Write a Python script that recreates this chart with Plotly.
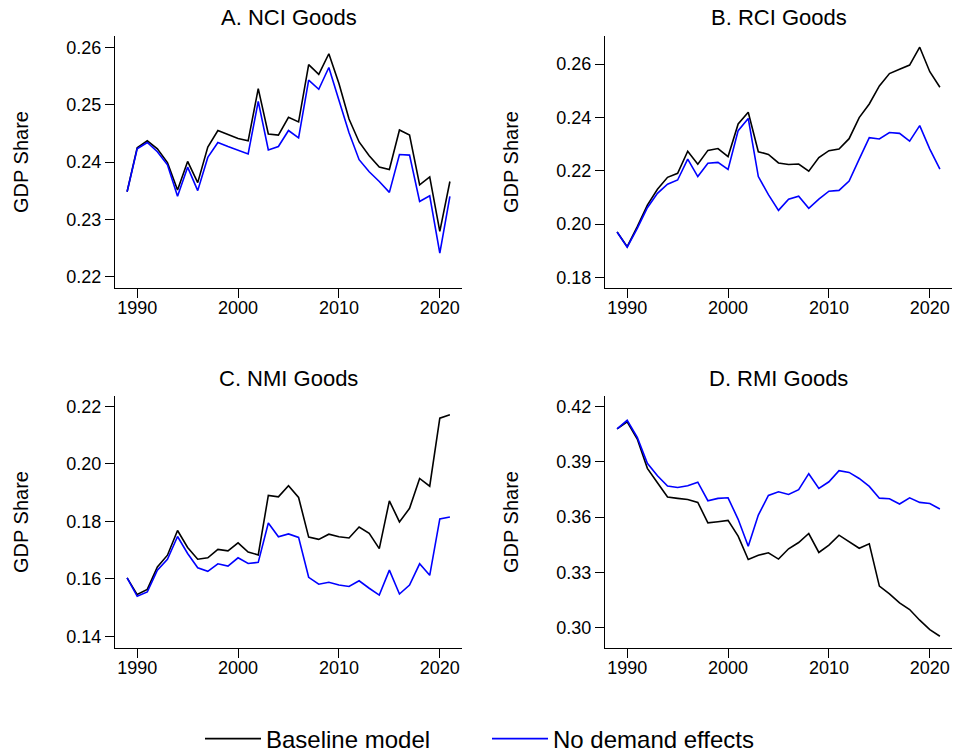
import plotly.graph_objects as go

years = list(range(1989, 2022))

nci_base = [0.2348, 0.2425, 0.2437, 0.2423, 0.2399, 0.2351, 0.2401, 0.2364, 0.2426, 0.2455,
            0.2448, 0.2441, 0.2437, 0.2528, 0.2449, 0.2447, 0.2478, 0.2470, 0.2570, 0.2553,
            0.2589, 0.2537, 0.2475, 0.2435, 0.2411, 0.2391, 0.2387, 0.2456, 0.2447, 0.2360,
            0.2374, 0.2279, 0.2366]
nci_nodem = [0.2348, 0.2423, 0.2434, 0.2418, 0.2395, 0.2340, 0.2391, 0.2350, 0.2408, 0.2434,
             0.2427, 0.2420, 0.2414, 0.2506, 0.2421, 0.2427, 0.2455, 0.2442, 0.2543, 0.2527,
             0.2565, 0.2508, 0.2451, 0.2404, 0.2383, 0.2366, 0.2347, 0.2413, 0.2412, 0.2331,
             0.2341, 0.2241, 0.2340]

rci_base = [0.1970, 0.1915, 0.1990, 0.2071, 0.2130, 0.2175, 0.2190, 0.2273, 0.2224, 0.2276,
            0.2283, 0.2253, 0.2375, 0.2419, 0.2271, 0.2261, 0.2229, 0.2223, 0.2225, 0.2198,
            0.2249, 0.2275, 0.2281, 0.2320, 0.2399, 0.2450, 0.2518, 0.2564, 0.2580, 0.2596,
            0.2663, 0.2571, 0.2513]
rci_nodem = [0.1970, 0.1913, 0.1984, 0.2061, 0.2115, 0.2149, 0.2165, 0.2243, 0.2178, 0.2228,
             0.2231, 0.2205, 0.2350, 0.2396, 0.2178, 0.2110, 0.2051, 0.2093, 0.2104, 0.2059,
             0.2093, 0.2123, 0.2126, 0.2161, 0.2243, 0.2324, 0.2319, 0.2343, 0.2340, 0.2311,
             0.2369, 0.2281, 0.2206]

nmi_base = [0.1603, 0.1545, 0.1563, 0.1641, 0.1682, 0.1768, 0.1709, 0.1668, 0.1673, 0.1702,
            0.1697, 0.1725, 0.1693, 0.1683, 0.1890, 0.1885, 0.1924, 0.1883, 0.1745, 0.1737,
            0.1755, 0.1746, 0.1742, 0.1780, 0.1758, 0.1705, 0.1871, 0.1798, 0.1845, 0.1949,
            0.1922, 0.2159, 0.2171]
nmi_nodem = [0.1603, 0.1539, 0.1554, 0.1630, 0.1668, 0.1747, 0.1688, 0.1638, 0.1626, 0.1652,
             0.1644, 0.1673, 0.1653, 0.1657, 0.1794, 0.1746, 0.1756, 0.1744, 0.1605, 0.1581,
             0.1588, 0.1578, 0.1573, 0.1593, 0.1567, 0.1543, 0.1630, 0.1547, 0.1578, 0.1652,
             0.1612, 0.1808, 0.1815]

rmi_base = [0.4079, 0.4118, 0.4024, 0.3865, 0.3787, 0.3709, 0.3702, 0.3696, 0.3680, 0.3569,
            0.3575, 0.3582, 0.3497, 0.3370, 0.3393, 0.3406, 0.3372, 0.3428, 0.3462, 0.3511,
            0.3408, 0.3448, 0.3502, 0.3466, 0.3431, 0.3455, 0.3225, 0.3183, 0.3134, 0.3098,
            0.3040, 0.2989, 0.2953]
rmi_nodem = [0.4079, 0.4126, 0.4033, 0.3892, 0.3825, 0.3769, 0.3761, 0.3770, 0.3790, 0.3689,
             0.3702, 0.3705, 0.3588, 0.3442, 0.3611, 0.3718, 0.3738, 0.3723, 0.3749, 0.3836,
             0.3756, 0.3792, 0.3852, 0.3843, 0.3810, 0.3767, 0.3703, 0.3700, 0.3671, 0.3705,
             0.3680, 0.3674, 0.3644]

panel_titles = ["A. NCI Goods", "B. RCI Goods", "C. NMI Goods", "D. RMI Goods"]
series_names = ["Baseline model", "No demand effects"]
x_ticks = [1990, 2000, 2010, 2020]
y_ticks = [
    [0.22, 0.23, 0.24, 0.25, 0.26],
    [0.18, 0.20, 0.22, 0.24, 0.26],
    [0.14, 0.16, 0.18, 0.20, 0.22],
    [0.30, 0.33, 0.36, 0.39, 0.42],
]
y_tick_text = [
    ["0.22", "0.23", "0.24", "0.25", "0.26"],
    ["0.18", "0.20", "0.22", "0.24", "0.26"],
    ["0.14", "0.16", "0.18", "0.20", "0.22"],
    ["0.30", "0.33", "0.36", "0.39", "0.42"],
]
y_ranges = [[0.218, 0.262], [0.176, 0.2705], [0.1359, 0.2236], [0.2889, 0.4258]]
panels = [(nci_base, nci_nodem), (rci_base, rci_nodem), (nmi_base, nmi_nodem), (rmi_base, rmi_nodem)]

FONT = "Liberation Sans, Arial, Helvetica, sans-serif"
colors = ["#000000", "#0000ff"]

W, H = 953, 753


def px_x(X):
    return X / W


def px_y(Y):
    return 1 - Y / H


x_domains = [[px_x(115), px_x(462)], [px_x(605), px_x(952)]] * 2
y_domains = [[px_y(288), px_y(36)]] * 2 + [[px_y(648), px_y(396)]] * 2

fig = go.Figure()
for i, (base, nodem) in enumerate(panels):
    xa = "x" if i == 0 else f"x{i+1}"
    ya = "y" if i == 0 else f"y{i+1}"
    for j, vals in enumerate([base, nodem]):
        fig.add_trace(go.Scatter(
            x=years, y=vals, mode="lines", name=series_names[j],
            line=dict(color=colors[j], width=1.6),
            xaxis=xa, yaxis=ya, showlegend=(i == 0),
        ))
    axis_common = dict(showline=True, linecolor="black", linewidth=1.2, ticks="outside",
                       ticklen=9, tickwidth=1.2, tickcolor="black", showgrid=False,
                       zeroline=False, automargin=False,
                       tickfont=dict(family=FONT, size=18, color="black"))
    xkey = "xaxis" if i == 0 else f"xaxis{i+1}"
    ykey = "yaxis" if i == 0 else f"yaxis{i+1}"
    fig.update_layout(**{
        xkey: dict(domain=x_domains[i], anchor=ya, range=[1987.8, 2022.2],
                   tickvals=x_ticks, ticklabelstandoff=-6, **axis_common),
        ykey: dict(domain=y_domains[i], anchor=xa, range=y_ranges[i],
                   tickvals=y_ticks[i], ticktext=y_tick_text[i],
                   title=dict(text="GDP Share", font=dict(family=FONT, size=20, color="black"),
                              standoff=32),
                   **axis_common),
    })
    fig.add_annotation(text=panel_titles[i], xref="paper", yref="paper",
                       x=sum(x_domains[i]) / 2, y=y_domains[i][1] + 18 / H,
                       xanchor="center", yanchor="middle", showarrow=False,
                       font=dict(family=FONT, size=22, color="black"))

fig.update_layout(
    width=W, height=H,
    margin=dict(l=0, r=0, t=0, b=0, autoexpand=False),
    paper_bgcolor="white", plot_bgcolor="white",
    font=dict(family=FONT, color="black"),
    legend=dict(orientation="h", x=px_x(200), xanchor="left", y=px_y(739), yanchor="middle",
                font=dict(family=FONT, size=24, color="black"), itemwidth=56,
                entrywidth=216, bgcolor="rgba(0,0,0,0)"),
)

fig.write_html(
    "out.html",
    config={"displayModeBar": False},
    post_script="document.body.style.margin='0';document.body.style.overflow='hidden';",
)
